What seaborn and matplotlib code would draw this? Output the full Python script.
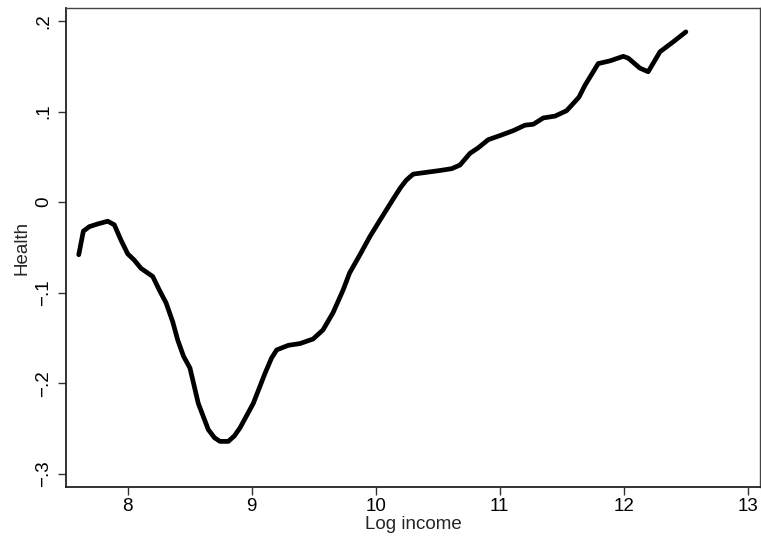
import matplotlib
matplotlib.use("Agg")
import matplotlib.pyplot as plt
import seaborn as sns
import pandas as pd

# Smoothed health index against log income
log_income = [
    7.605, 7.642, 7.690, 7.758, 7.839, 7.892, 7.946, 8.000, 8.053, 8.107,
    8.202, 8.255, 8.309, 8.363, 8.403, 8.450, 8.502, 8.569, 8.650, 8.700,
    8.744, 8.811, 8.860, 8.906, 9.013, 9.107, 9.160, 9.202, 9.295, 9.390,
    9.495, 9.575, 9.656, 9.737, 9.790, 9.873, 9.953, 10.034, 10.139, 10.200,
    10.245, 10.277, 10.303, 10.411, 10.519, 10.613, 10.680, 10.761, 10.827, 10.908,
    11.002, 11.110, 11.204, 11.271, 11.352, 11.446, 11.540, 11.594, 11.640, 11.688,
    11.795, 11.890, 11.997, 12.037, 12.131, 12.198, 12.293, 12.400, 12.502,
]
health = [
    -0.058, -0.032, -0.027, -0.024, -0.021, -0.025, -0.042, -0.057, -0.064, -0.073,
    -0.082, -0.097, -0.111, -0.132, -0.152, -0.170, -0.183, -0.222, -0.251, -0.260,
    -0.264, -0.264, -0.258, -0.249, -0.222, -0.189, -0.172, -0.163, -0.158, -0.156,
    -0.151, -0.141, -0.122, -0.097, -0.078, -0.058, -0.038, -0.020, 0.003, 0.016,
    0.024, 0.028, 0.031, 0.033, 0.035, 0.037, 0.041, 0.054, 0.060, 0.069,
    0.0735, 0.079, 0.085, 0.086, 0.093, 0.095, 0.101, 0.109, 0.116, 0.129,
    0.153, 0.156, 0.161, 0.159, 0.148, 0.144, 0.166, 0.177, 0.188,
]

x_ticks = [8, 9, 10, 11, 12, 13]
y_ticks = [-0.3, -0.2, -0.1, 0.0, 0.1, 0.2]
y_tick_labels = ["\u2212.3", "\u2212.2", "\u2212.1", "0", ".1", ".2"]

sns.set_style("ticks")
plt.rcParams["font.family"] = ["Liberation Sans", "DejaVu Sans"]

df = pd.DataFrame({"Log income": log_income, "Health": health})

fig = plt.figure(figsize=(7.61, 5.43), dpi=100)
ax = fig.add_axes([0.0867, 0.1037, 0.9120, 0.8810])

sns.lineplot(data=df, x="Log income", y="Health", ax=ax,
             color="black", linewidth=3.4, sort=False, estimator=None,
             solid_joinstyle="round", solid_capstyle="round")

ax.set_xlim(7.502, 13.10)
ax.set_ylim(-0.314, 0.214)
ax.set_xticks(x_ticks)
ax.set_xticklabels([str(t) for t in x_ticks])
ax.set_yticks(y_ticks)
ax.set_yticklabels(y_tick_labels, rotation=90, va="center")

ax.tick_params(axis="both", direction="out", length=6, width=1.0,
               color="#333333", labelsize=13.5, labelcolor="black")
ax.tick_params(axis="x", pad=2)
ax.tick_params(axis="y", pad=4)

ax.set_xlabel("Log income", fontsize=13.5, labelpad=1)
ax.set_ylabel("Health", fontsize=13.5, labelpad=3)

for side in ["left", "bottom"]:
    ax.spines[side].set_color("#222222")
    ax.spines[side].set_linewidth(1.3)
for side in ["top", "right"]:
    ax.spines[side].set_visible(True)
    ax.spines[side].set_color("#444444")
    ax.spines[side].set_linewidth(1.0)

fig.savefig("out.png", dpi=100)
